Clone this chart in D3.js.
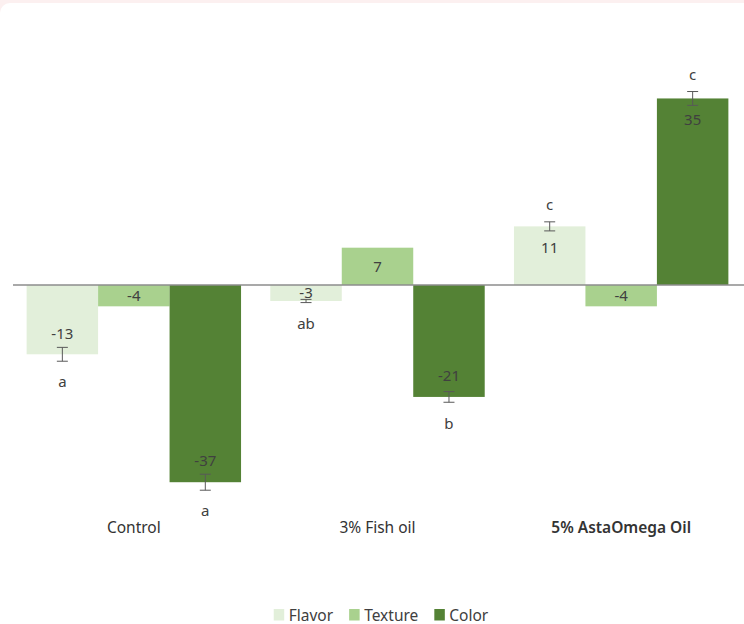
<!DOCTYPE html>
<html>
<head>
<meta charset="utf-8">
<script src="https://cdn.jsdelivr.net/npm/d3@7"></script>
<style>
  html, body { margin: 0; padding: 0; background: #fcf0f0; }
  svg { display: block; }
  text { font-family: "Noto Sans", "Open Sans", sans-serif; }
</style>
</head>
<body>
<svg id="chart" width="744" height="624"></svg>
<script>
// Sensory score change per treatment
const categories = ["Control", "3% Fish oil", "5% AstaOmega Oil"];
const seriesNames = ["Flavor", "Texture", "Color"];
const flavor = [-13, -3, 11];
const texture = [-4, 7, -4];
const color = [-37, -21, 35];
const flavorErr = [1.3, 0.3, 0.85];
const textureErr = [0, 0, 0];
const colorErr = [1.5, 1.0, 1.3];
const flavorLetters = ["a", "ab", "c"];
const textureLetters = ["", "", ""];
const colorLetters = ["a", "b", "c"];
const yTicks = [-40, 40];

const palette = ["#e2efda", "#a9d18e", "#548235"];
const values = [flavor, texture, color];
const errs = [flavorErr, textureErr, colorErr];
const letters = [flavorLetters, textureLetters, colorLetters];

const rows = [];
categories.forEach((cat, ci) => {
  seriesNames.forEach((s, si) => {
    rows.push({cat, series: s, si, value: values[si][ci], err: errs[si][ci], letter: letters[si][ci]});
  });
});

const svg = d3.select("#chart");

// white card with rounded corner
svg.append("rect").attr("x", 0).attr("y", 3).attr("width", 760).attr("height", 640)
  .attr("rx", 10).attr("fill", "#ffffff");

const x0 = d3.scaleBand().domain(categories).range([12, 743]).paddingInner(0.12).paddingOuter(0.06);
const x1 = d3.scaleBand().domain(seriesNames).range([0, x0.bandwidth()]);
const y = d3.scaleLinear().domain(d3.extent(yTicks)).range([498.2, 71.8]);
const fill = d3.scaleOrdinal().domain(seriesNames).range(palette);

const bx = d => x0(d.cat) + x1(d.series);
const cx = d => bx(d) + x1.bandwidth() / 2;

// bars
svg.append("g").selectAll("rect").data(rows).join("rect")
  .attr("x", bx)
  .attr("width", x1.bandwidth())
  .attr("y", d => y(Math.max(0, d.value)))
  .attr("height", d => Math.abs(y(d.value) - y(0)))
  .attr("fill", d => fill(d.series));

// zero baseline
svg.append("line")
  .attr("x1", 13).attr("x2", 744)
  .attr("y1", y(0)).attr("y2", y(0))
  .attr("stroke", "#8c8c8c").attr("stroke-width", 1.5);

// error bars
const eb = svg.append("g").attr("stroke", "#595959").attr("stroke-width", 1)
  .selectAll("g").data(rows.filter(d => d.err > 0)).join("g");
eb.append("line").attr("x1", cx).attr("x2", cx)
  .attr("y1", d => y(d.value + d.err)).attr("y2", d => y(d.value - d.err));
eb.append("line").attr("x1", d => cx(d) - 5.5).attr("x2", d => cx(d) + 5.5)
  .attr("y1", d => y(d.value + d.err)).attr("y2", d => y(d.value + d.err));
eb.append("line").attr("x1", d => cx(d) - 5.5).attr("x2", d => cx(d) + 5.5)
  .attr("y1", d => y(d.value - d.err)).attr("y2", d => y(d.value - d.err));

// value labels inside the bars
svg.append("g").selectAll("text").data(rows).join("text")
  .attr("x", cx)
  .attr("y", d => {
    const len = Math.abs(y(d.value) - y(0));
    const sign = d.value < 0 ? 1 : -1;
    if (len < 45) return (y(d.value) + y(0)) / 2;
    return y(d.value) - sign * 21;
  })
  .attr("dy", "0.35em")
  .attr("text-anchor", "middle")
  .attr("font-size", 15)
  .attr("fill", "#404040")
  .text(d => d3.format("d")(d.value).replace("−", "-"));

// significance letters beyond the error bars
svg.append("g").selectAll("text").data(rows.filter(d => d.letter)).join("text")
  .attr("x", cx)
  .attr("y", d => {
    const end = d.value < 0 ? y(d.value - d.err) : y(d.value + d.err);
    return d.value < 0 ? end + 21 : end - 17;
  })
  .attr("dy", "0.35em")
  .attr("text-anchor", "middle")
  .attr("font-size", 15)
  .attr("fill", "#404040")
  .text(d => d.letter);

// category labels
svg.append("g").selectAll("text").data(categories).join("text")
  .attr("x", d => x0(d) + x0.bandwidth() / 2)
  .attr("y", 533)
  .attr("text-anchor", "middle")
  .attr("font-size", 15.5)
  .attr("font-weight", (d, i) => i === 2 ? 600 : 400)
  .attr("fill", "#333333")
  .text(d => d);

// legend
const legend = svg.append("g");
let lx = 0;
seriesNames.forEach(s => {
  const g = legend.append("g").attr("transform", `translate(${lx},0)`);
  g.append("rect").attr("x", 0).attr("y", 609).attr("width", 10.5).attr("height", 11.5).attr("fill", fill(s));
  const t = g.append("text").attr("x", 15).attr("y", 620.5).attr("font-size", 15.5)
    .attr("fill", "#404040").text(s);
  lx += 15 + t.node().getComputedTextLength() + 16;
});
const lw = lx - 16;
legend.attr("transform", `translate(${381 - lw / 2},0)`);
</script>
</body>
</html>
